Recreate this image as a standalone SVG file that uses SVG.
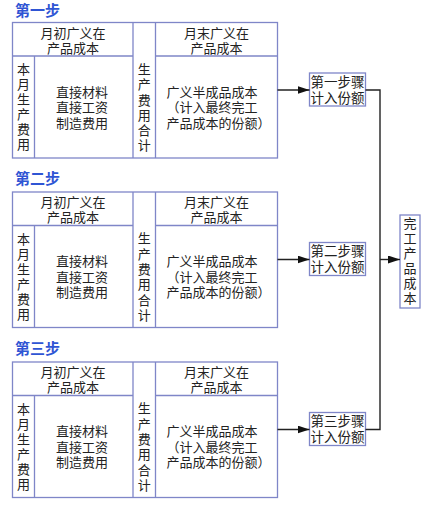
<svg xmlns="http://www.w3.org/2000/svg" width="430" height="510" viewBox="0 0 430 510">
<defs>
<style>
.b{fill:#fff;stroke:#7f86c8;stroke-width:1.3}
.d{stroke:#7f86c8;stroke-width:1.3;fill:none}
.t{font-family:"Noto Sans CJK SC","Liberation Sans",sans-serif;font-size:13px;fill:#222;dominant-baseline:central}
.c{text-anchor:middle}
.h{font-family:"Noto Sans CJK SC","Liberation Sans",sans-serif;font-size:15px;font-weight:bold;fill:#2f55d4;dominant-baseline:central}
.s{font-family:"Liberation Sans","Noto Sans CJK SC",sans-serif;font-size:13.5px}
.vt{font-family:"Noto Sans CJK SC","Liberation Sans",sans-serif;font-size:13px;fill:#222;writing-mode:vertical-rl;letter-spacing:2px;text-anchor:start}
.ln{stroke:#222;stroke-width:1.4;fill:none}
</style>
<marker id="ar" markerWidth="12" markerHeight="8" refX="12" refY="4" orient="auto" markerUnits="userSpaceOnUse">
<path d="M0,0 L12,4 L0,8 z" fill="#111"/>
</marker>
<g id="blk">
<rect class="b" x="12.5" y="0" width="265" height="135.5"/>
<path class="d" d="M12.5,33.5H133M155.5,33.5H277.5M34.5,33.5V135.5M133,0V135.5M155.5,0V135.5"/>
<text class="t c"><tspan x="73" y="9.2">月初广义在</tspan><tspan x="73" y="24.2">产品成本</tspan></text>
<text class="t c"><tspan x="216.5" y="9.2">月末广义在</tspan><tspan x="216.5" y="24.2">产品成本</tspan></text>
<text class="vt" x="23.5" y="40.5">本月生产费用</text>
<text class="t c"><tspan x="82" y="68">直接材料</tspan><tspan x="82" y="83.5">直接工资</tspan><tspan x="82" y="99">制造费用</tspan></text>
<text class="vt" x="144.3" y="40" style="letter-spacing:2.3px">生产费用合计</text>
<text class="t"><tspan x="166.5" y="68">广义半成品成本</tspan><tspan x="166.5" y="83.5">（计入最终完工</tspan><tspan x="166.5" y="99">产品成本的份额）</tspan></text>
</g>
</defs>

<g id="step1">
<text class="h" x="15" y="9.5">第一步</text>
<use href="#blk" y="22.5"/>
</g>
<g id="step2">
<text class="h" x="15" y="177">第二步</text>
<use href="#blk" y="192"/>
</g>
<g id="step3">
<text class="h" x="15" y="347">第三步</text>
<use href="#blk" y="362"/>
</g>

<g id="share1">
<rect class="b" x="309.5" y="73" width="56" height="33"/>
<text class="t c s"><tspan x="337.5" y="81.5">第一步骤</tspan><tspan x="337.5" y="97.5">计入份额</tspan></text>
</g>
<g id="share2">
<rect class="b" x="309.5" y="242.5" width="56" height="33"/>
<text class="t c s"><tspan x="337.5" y="251">第二步骤</tspan><tspan x="337.5" y="267">计入份额</tspan></text>
</g>
<g id="share3">
<rect class="b" x="309.5" y="412.5" width="56" height="33"/>
<text class="t c s"><tspan x="337.5" y="421">第三步骤</tspan><tspan x="337.5" y="437">计入份额</tspan></text>
</g>
<g id="final">
<rect class="b" x="400" y="215" width="20" height="93"/>
<text class="vt" x="410" y="217">完工产品成本</text>
</g>

<g id="connectors">
<line class="ln" x1="277.5" y1="90" x2="309.5" y2="90" marker-end="url(#ar)"/>
<line class="ln" x1="277.5" y1="259.5" x2="309.5" y2="259.5" marker-end="url(#ar)"/>
<line class="ln" x1="277.5" y1="429.5" x2="309.5" y2="429.5" marker-end="url(#ar)"/>
<path class="ln" d="M365.5,90H380V429.5H365.5"/>
<line class="ln" x1="380" y1="259.5" x2="400" y2="259.5" marker-end="url(#ar)"/>
</g>
</svg>
